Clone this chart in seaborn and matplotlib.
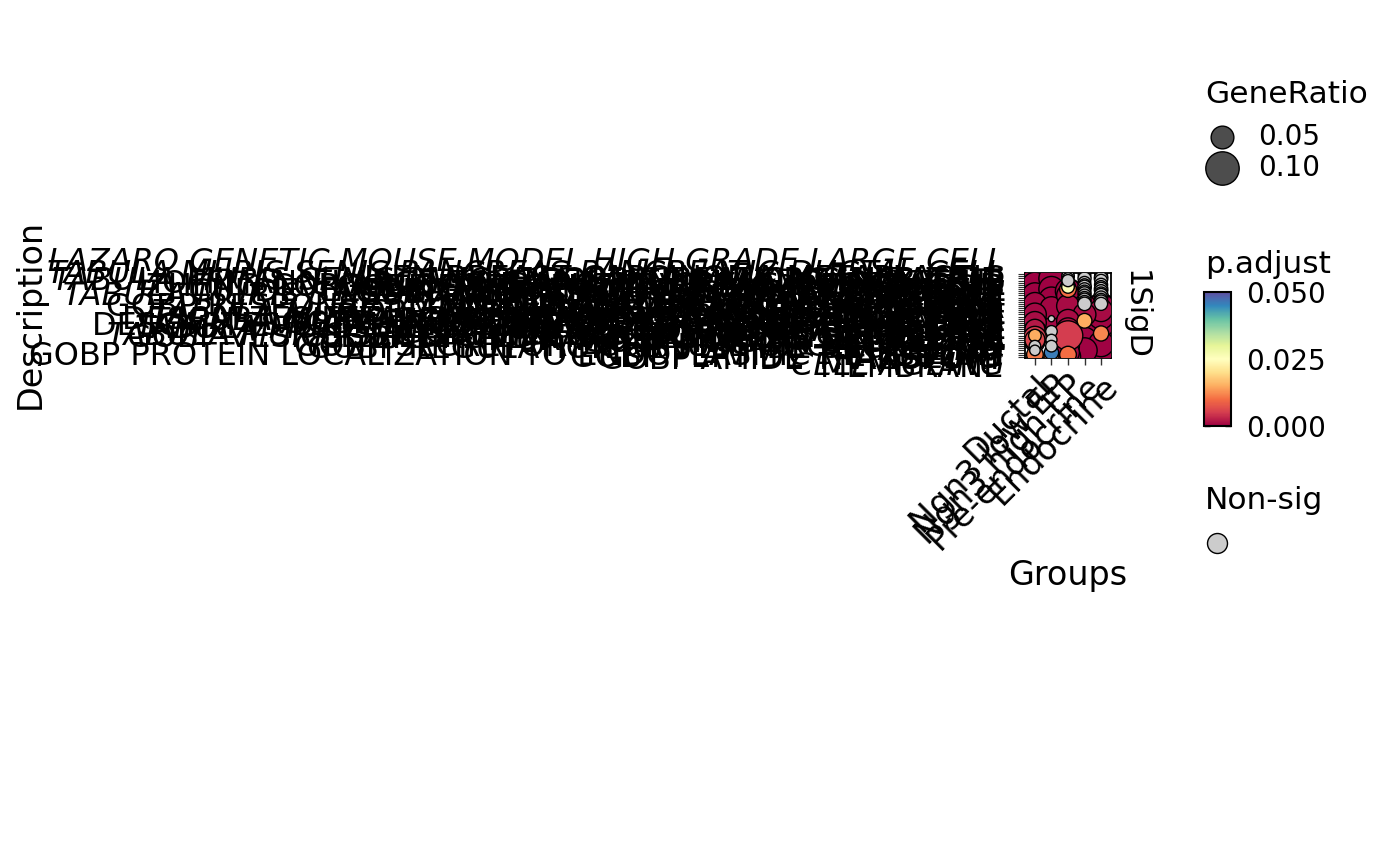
import textwrap
import numpy as np
import pandas as pd
import matplotlib
matplotlib.use("Agg")
import matplotlib.pyplot as plt
import seaborn as sns
from matplotlib.colors import Normalize
from matplotlib.cm import ScalarMappable

sns.set_theme(style="white")
plt.rcParams['font.family'] = ['DejaVu Sans']
plt.rcParams['text.color'] = 'black'
plt.rcParams['axes.labelcolor'] = 'black'
plt.rcParams['xtick.color'] = 'black'
plt.rcParams['ytick.color'] = 'black'

# ---------------- data ----------------
groups = ["Ductal", "Ngn3 low EP", "Ngn3 high EP", "Pre-endocrine", "Endocrine"]

descriptions = [
    "LAZARO GENETIC MOUSE MODEL HIGH GRADE LARGE CELL NEUROENDOCRINE LUNG CARCINOMA UP",
    "LIEN BREAST CARCINOMA METAPLASTIC",
    "GOBP CILIUM ORGANIZATION",
    "HOFFMANN LARGE TO SMALL PRE BII LYMPHOCYTE UP",
    "MURARO PANCREAS DUCTAL CELL",
    "GOBP EPITHELIAL TUBE MORPHOGENESIS",
    "TABULA MURIS SENIS PANCREAS PANCREATIC DUCTAL CELL AGEING",
    "CUI DEVELOPING HEART C3 FIBROBLAST LIKE CELL",
    "GOBP MICROTUBULE BASED MOVEMENT",
    "TABULA MURIS SENIS PANCREAS PANCREATIC ACINAR CELL AGEING",
    "HU FETAL RETINA RPE",
    "GOBP CELL SUBSTRATE ADHESION",
    "ZHENG CORD BLOOD C4 PUTATIVE EARLY ERYTHROID COMMITMENT",
    "BENPORATH ES WITH H3K27ME3",
    "GOBP RESPONSE TO ENDOPLASMIC RETICULUM STRESS",
    "MANNO MIDBRAIN NEUROTYPES HDA",
    "TABULA MURIS SENIS PANCREAS TYPE B PANCREATIC CELL AGEING",
    "GOBP REGULATION OF HORMONE LEVELS",
    "MURARO PANCREAS BETA CELL",
    "GOBP HORMONE SECRETION",
    "DESCARTES FETAL PANCREAS ISLET ENDOCRINE CELLS",
    "VANGURP PANCREATIC ENDOCRINE CELL",
    "GOBP ENDOCRINE PANCREAS DEVELOPMENT",
    "DESCARTES FETAL INTESTINE ENTEROENDOCRINE CELLS",
    "TABULA MURIS SENIS PANCREAS PANCREATIC A CELL AGEING",
    "MURARO PANCREAS ALPHA CELL",
    "GOBP SIGNAL RELEASE",
    "GOBP PEPTIDE HORMONE SECRETION",
    "TABULA MURIS SENIS PANCREAS PANCREATIC D CELL AGEING",
    "GOBP PROTEIN TARGETING TO MEMBRANE",
    "MURARO PANCREAS DELTA CELL",
    "GOBP INSULIN SECRETION",
    "TABULA MURIS SENIS PANCREAS PANCREATIC PP CELL AGEING",
    "GOBP SECRETORY GRANULE ORGANIZATION",
    "GOBP REGULATION OF PEPTIDE SECRETION",
    "TABULA MURIS SENIS PANCREAS PANCREATIC STELLATE CELL AGEING",
    "GOBP VESICLE MEDIATED TRANSPORT TO THE PLASMA MEMBRANE",
    "GOBP PROTEIN LOCALIZATION TO ENDOPLASMIC RETICULUM",
    "GOBP PEPTIDE TRANSPORT",
    "GOBP AMIDE TRANSPORT",
]
italic_labels = [d.startswith(("LAZARO", "TABULA")) for d in descriptions]

# GeneRatio per group (None = term absent for that group), top row first
ductal_ratio = [0.10, 0.08, 0.11, 0.07, 0.09, 0.06, 0.10, 0.08, 0.07, 0.09,
                0.06, 0.08, 0.10, 0.07, 0.05, 0.09, 0.06, 0.08, 0.07, 0.05,
                0.09, 0.06, 0.07, 0.05, 0.08, 0.06, 0.04, 0.05, 0.06, 0.02,
                0.05, 0.04, 0.04, None, 0.018, None, 0.016, None, 0.03, None]
ductal_padj = [1e-9, 2e-7, 1e-10, 4e-6, 3e-8, 2e-5, 1e-9, 6e-7, 1e-5, 2e-8,
               5e-5, 3e-6, 1e-8, 2e-5, 4e-4, 6e-7, 1e-4, 8e-6, 3e-5, 6e-4,
               2e-6, 2e-4, 9e-5, 1e-3, 4e-5, 5e-4, 2e-3, 1e-3, 8e-4, 0.015,
               0.005, 0.006, 0.004, None, None, None, None, None, 0.011, None]

ngn3low_ratio = [0.07, 0.09, 0.06, 0.08, 0.12, 0.07, 0.09, 0.06, 0.10, 0.08,
                 0.07, 0.09, 0.06, 0.08, 0.10, 0.07, 0.05, 0.09, 0.06, 0.08,
                 0.07, 0.01, 0.06, 0.08, 0.05, 0.07, 0.05, 0.018, None, None,
                 None, 0.017, None, None, 0.018, None, None, 0.024, None, 0.025]
ngn3low_padj = [2e-6, 1e-8, 3e-5, 4e-7, 1e-12, 2e-6, 5e-8, 6e-5, 1e-9, 3e-7,
                2e-6, 4e-8, 1e-4, 5e-7, 2e-9, 3e-6, 4e-4, 1e-7, 2e-5, 6e-7,
                9e-6, None, 5e-5, 1e-6, 3e-4, 2e-5, 6e-4, None, None, None,
                None, None, None, None, None, None, None, 0.046, None, 0.012]

ngn3high_ratio = [0.018, 0.02, 0.018, 0.019, None, 0.022, 0.02, 0.03, 0.06, 0.08,
                  0.05, 0.07, 0.09, 0.06, 0.08, 0.05, 0.07, 0.10, 0.06, 0.08,
                  0.07, 0.09, 0.05, 0.08, 0.06, 0.07, 0.05, 0.08, 0.06, 0.08,
                  0.05, 0.07, 0.06, 0.09, 0.05, 0.07, 0.06, 0.05, 0.03, 0.06]
ngn3high_padj = [None, None, None, None, None, 0.021, 0.026, 0.01, 2e-4, 1e-5,
                 5e-4, 3e-5, 1e-6, 2e-4, 4e-6, 8e-4, 6e-5, 1e-7, 3e-4, 2e-5,
                 8e-5, 1e-6, 9e-4, 3e-6, 2e-4, 5e-5, 1e-3, 4e-6, 3e-4, 0.005,
                 6e-4, 2e-5, 1e-4, 1e-6, 5e-4, 3e-5, 2e-4, 7e-4, 0.01, 4e-4]

preendo_ratio = [0.02, 0.019, 0.021, None, 0.02, 0.019, 0.022, 0.02, 0.019, 0.021,
                 0.02, 0.019, 0.021, 0.02, 0.022, 0.05, 0.07, 0.06, 0.08, 0.05,
                 0.07, 0.09, 0.025, 0.06, 0.08, 0.07, 0.10, 0.06, 0.08, 0.07,
                 0.09, 0.06, 0.08, 0.10, 0.07, 0.09, 0.06, 0.08, 0.07, 0.09]
preendo_padj = [None, None, None, None, None, None, None, None, None, None,
                None, None, None, None, None, 6e-4, 2e-5, 1e-4, 3e-6, 8e-4,
                5e-5, 1e-7, 0.015, 2e-4, 4e-6, 3e-5, 1e-8, 2e-4, 5e-6, 4e-5,
                2e-7, 3e-4, 6e-6, 1e-9, 5e-5, 2e-7, 3e-4, 8e-6, 4e-5, 1e-7]

endo_ratio = [0.02, 0.021, 0.022, 0.02, None, 0.021, 0.02, 0.022, 0.021, 0.02,
              0.023, 0.021, 0.02, 0.022, 0.021, 0.06, 0.08, 0.05, 0.07, 0.09,
              0.06, 0.08, 0.07, 0.10, 0.06, 0.08, 0.07, 0.09, 0.026, 0.08,
              0.10, 0.07, 0.09, 0.06, 0.08, 0.11, 0.07, 0.09, 0.08, 0.10]
endo_padj = [None, None, None, None, None, None, None, None, None, None,
             None, None, None, None, None, 2e-4, 6e-6, 8e-4, 5e-5, 1e-7,
             3e-4, 4e-6, 6e-5, 1e-9, 2e-4, 5e-6, 7e-5, 3e-7, 0.012, 6e-6,
             1e-9, 4e-5, 2e-7, 3e-4, 5e-6, 1e-10, 6e-5, 3e-7, 8e-6, 1e-8]

ratios = [ductal_ratio, ngn3low_ratio, ngn3high_ratio, preendo_ratio, endo_ratio]
padjs = [ductal_padj, ngn3low_padj, ngn3high_padj, preendo_padj, endo_padj]

records = []
for i, desc in enumerate(descriptions):
    for g, rlist, plist in zip(groups, ratios, padjs):
        if rlist[i] is None:
            continue
        records.append({"Description": desc, "Groups": g, "GeneRatio": rlist[i],
                        "p.adjust": np.nan if plist[i] is None else plist[i],
                        "sig": plist[i] is not None})
df = pd.DataFrame(records)
df["Description"] = pd.Categorical(df["Description"], categories=descriptions)
df["Groups"] = pd.Categorical(df["Groups"], categories=groups)
# draw the less significant (lighter) points last so they stay visible
sig_df = df[df["sig"]].sort_values("p.adjust", kind="stable")
ns_df = df[~df["sig"]]

SIZES = (20, 640)
SIZE_NORM = (0.01, 0.11)
PNORM = (0.0, 0.05)

# ---------------- figure ----------------
W, H = 1400, 866
fig = plt.figure(figsize=(W / 100, H / 100), dpi=100)
fig.patch.set_facecolor("white")

def fx(px):
    return px / W

def fy(py):
    return 1 - py / H

pl, pr, pt, pb = 1025, 1111, 273, 358
ax = fig.add_axes([fx(pl), fy(pb), fx(pr - pl), (pb - pt) / H])
ax.set_facecolor("white")

sns.scatterplot(data=sig_df, x="Groups", y="Description", hue="p.adjust",
                palette="Spectral", hue_norm=PNORM, size="GeneRatio",
                sizes=SIZES, size_norm=SIZE_NORM, edgecolor="black",
                linewidth=1.0, legend=False, ax=ax, zorder=3)
sns.scatterplot(data=ns_df, x="Groups", y="Description", color="#CCCCCC",
                size="GeneRatio", sizes=SIZES, size_norm=SIZE_NORM,
                edgecolor="black", linewidth=1.0, legend=False, ax=ax, zorder=4)

n = len(descriptions)
ax.set_ylim(n - 1 + 0.6, -0.6)
ax.set_xlim(-0.6, len(groups) - 1 + 0.6)
ax.grid(False)
for s in ax.spines.values():
    s.set_visible(True)
    s.set_color("black")
    s.set_linewidth(1.3)

wrapped = [textwrap.fill(d, 50) for d in descriptions]
ax.set_yticks(range(n))
ax.set_yticklabels(wrapped, fontsize=23, linespacing=0.95, color="black")
for lab, it in zip(ax.get_yticklabels(), italic_labels):
    if it:
        lab.set_fontstyle("italic")
ax.set_xticks(range(len(groups)))
ax.set_xticklabels(groups, rotation=45, ha="right", va="top",
                   rotation_mode="anchor", fontsize=24, color="black")
ax.tick_params(axis="y", left=True, length=5, width=0.8, color="#333333", pad=10)
ax.tick_params(axis="x", bottom=True, length=5, width=1.0, color="#333333", pad=3)
ax.set_xlabel("")
ax.set_ylabel("")

fig.text(fx(1068), fy(575), "Groups", ha="center", va="center", fontsize=24,
         color="black")
fig.text(fx(30), fy(314), "Description", ha="center", va="center",
         rotation=90, fontsize=24, color="black")
fig.text(fx(1135), fy(315), "1SigD", ha="center", va="center",
         rotation=-90, fontsize=22, color="black")

# ---------------- legends ----------------
lax = fig.add_axes([0, 0, 1, 1])
lax.set_xlim(0, W)
lax.set_ylim(H, 0)
lax.axis("off")
lax.patch.set_alpha(0)

def size_of(v):
    return SIZES[0] + (v - SIZE_NORM[0]) / (SIZE_NORM[1] - SIZE_NORM[0]) * (SIZES[1] - SIZES[0])

legend_ratios = [0.05, 0.10]
legend_y = [137, 168]
lax.text(1205, 103, "GeneRatio", fontsize=22.5, va="baseline", ha="left",
         color="black")
for v, yy in zip(legend_ratios, legend_y):
    lax.scatter([1222], [yy], s=size_of(v), color="#4D4D4D", edgecolor="black",
                linewidth=1.0)
    lax.text(1258, yy, f"{v:.2f}", fontsize=20, va="center", ha="left",
             color="black")

lax.text(1205, 273, "p.adjust", fontsize=22.5, va="baseline", ha="left",
         color="black")
lax.text(1205, 509, "Non-sig", fontsize=22.5, va="baseline", ha="left",
         color="black")
lax.scatter([1217], [543], s=207, color="#CCCCCC", edgecolor="black", linewidth=1.0)

cax = fig.add_axes([fx(1204), fy(426), fx(27), 134 / H])
cb = fig.colorbar(ScalarMappable(norm=Normalize(*PNORM), cmap="Spectral"), cax=cax)
cb.set_ticks([0.0, 0.025, 0.05])
cb.set_ticklabels(["0.000", "0.025", "0.050"])
cb.outline.set_edgecolor("black")
cb.outline.set_linewidth(1.5)
cax.tick_params(labelsize=20, length=4, width=1.0, direction="in", color="black",
                labelcolor="black", pad=11, left=True, right=True)

fig.savefig("out.png", dpi=100, facecolor="white")
